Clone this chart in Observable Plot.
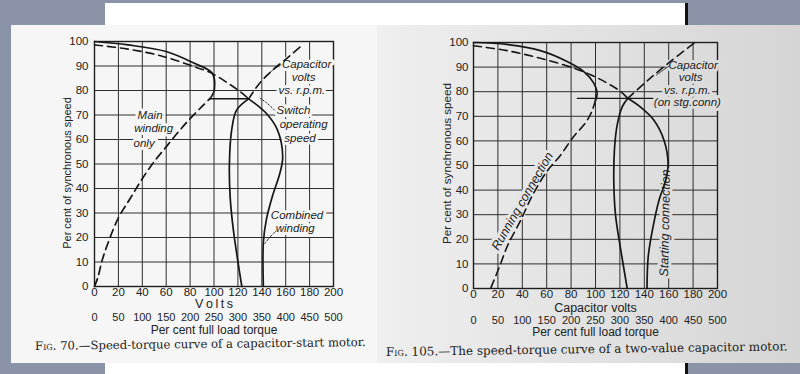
<!DOCTYPE html>
<html><head><meta charset="utf-8">
<script src="https://cdn.jsdelivr.net/npm/d3@7"></script>
<script src="https://cdn.jsdelivr.net/npm/@observablehq/plot@0.6"></script>
<style>
html,body{margin:0;padding:0}
body{width:800px;height:374px;position:relative;overflow:hidden;background:#8b93a9}
.abs{position:absolute}
#sheet{left:105px;top:3px;width:580px;height:371px;background:#fff;border-right:3px solid #111}
#p70{left:11px;top:25px;width:366px;height:338px;background:#f6f6f6}
#p105{left:377px;top:25px;width:423px;height:338px;background:linear-gradient(90deg,#efefef,#d5d5d5)}
.cap{font-family:"DejaVu Serif",serif;color:#222;white-space:nowrap;transform-origin:left center;line-height:13px}
.sc{font-variant:small-caps}
svg{display:block}
</style></head><body>
<div id="sheet" class="abs"></div>
<div id="p70" class="abs"></div>
<div id="p105" class="abs"></div>
<div class="abs cap" style="left:35px;top:340px;font-size:11.7px;transform:rotate(-0.7deg)"><span class="sc">Fig.</span> 70.—Speed-torque curve of a capacitor-start motor.</div>
<div class="abs cap" style="left:386px;top:346px;font-size:12px;transform:rotate(-0.8deg)"><span class="sc">Fig.</span> 105.—The speed-torque curve of a two-value capacitor motor.</div>
<script>
// ---- shared ticks ----
const voltTicks = [0,20,40,60,80,100,120,140,160,180,200];
const torqueTicks = [0,50,100,150,200,250,300,350,400,450,500];
const speedTicks = [0,10,20,30,40,50,60,70,80,90,100];

// ---- Fig. 70 : capacitor-start motor  [volts, % speed] ----
const f70MainLower = [[0,0],[3,4],[6,10],[10,16],[20,28],[30,36],[40,44],[50,51],[60,57],[70,63],[80,68.5],[90,73.5],[96.4,76.6]];
const f70MainUpper = [[0,100],[28,98.6],[60,95.9],[83,91.2],[98.4,87.1],[100.3,80.3],[98.5,78],[96.4,76.6]];
const f70UpperDashed = [[0,98.6],[28,96.9],[56,94.1],[83,89.8],[97,87.3],[110.7,83.3],[121.7,79.6],[129,76.6]];
const f70Switch = [[96.4,76.6],[129,76.6]];
const f70CapVoltsAbove = [[129,76.6],[138.2,83],[149.2,88.4],[162.9,93.9],[174,98.6]];
const f70CapVoltsBelow = [[129,76.6],[119,72.1],[114.8,63.9],[112.9,50.3],[113.5,36.7],[116.2,23.1],[123.3,0]];
const f70Combined = [[129,76.6],[143.7,70.7],[153,64],[157.5,53],[155,46],[149,37],[143.7,27],[141.3,18],[141.3,0]];
const f70LeadCap = [[156,90.5],[150,88.6],[143,85.8]];
const f70LeadSwitch = [[150.5,72],[144,75],[138.5,76.8]];
const f70LeadComb = [[151.5,22.5],[146.5,20],[142.5,17.5]];
const f70Notes = [
  {t:"Main", v:46.5, s:69.8},{t:"winding", v:49.5, s:64.4},{t:"only", v:41.5, s:58.3},
  {t:"Capacitor", v:177.5, s:90.8},{t:"volts", v:175, s:85.5},{t:"vs. r.p.m.", v:173.5, s:80.2},
  {t:"Switch", v:166.5, s:72},{t:"operating", v:175, s:66},{t:"speed", v:172, s:60.4},
  {t:"Combined", v:169.5, s:29.2},{t:"winding", v:168, s:23.7}
];

// ---- Fig. 105 : two-value capacitor motor  [volts, % speed] ----
const f105RunUpper = [[0,100],[27.4,99.2],[54.8,96.7],[76.7,92.3],[90.4,88.2],[98.6,83.5],[101.4,79.4],[100,76.5]];
const f105RunLower = [[100,76.5],[97,72],[92,67.5],[82,61.7],[71,54],[60,47.5],[49,38.5],[38.4,27.5],[28,17.5],[21,8.5],[14,0]];
const f105UpperDashed = [[0,98.7],[27.4,96.7],[54.8,93.6],[82.2,89.6],[95.9,86.9],[109.6,83.5],[120.5,80.1],[126.5,77.3]];
const f105CapVoltsAbove = [[126.5,77.3],[143.3,84.8],[159.7,91.6],[181,99.8]];
const f105CapVoltsBelow = [[126.5,77.3],[121.9,73.8],[117.8,66.5],[115.6,57],[115,43.4],[116.4,29.9],[120.5,16.3],[126,0]];
const f105Starting = [[126.5,77.3],[136.7,73.8],[147.9,68.4],[156.2,60.2],[159.5,50.7],[157.5,43.9],[152,35.8],[146.6,23.6],[143.2,12.9],[142.2,0]];
const f105SwitchLine = [[85,77.3],[147,77.3]];
const f105LeadCap = [[160.5,90.5],[155,88.6],[150,86.8]];
const f105Notes = [
  {t:"Capacitor", v:180, s:90.9, r:0},{t:"volts", v:178, s:85.9, r:0},{t:"vs. r.p.m.", v:175.3, s:80.7, r:0},
  {t:"(on stg.conn)", v:175.3, s:75.5, r:0},
  {t:"Running connection", v:40, s:35.5, r:-60},
  {t:"Starting connection", v:157, s:26.6, r:-89}
];

const INK = "#161616";
const SANS = "'Liberation Sans', Arial, sans-serif";

function baseMarks(cfg){
  const k = voltTicks[voltTicks.length-1] / torqueTicks[torqueTicks.length-1];
  return [
    Plot.ruleX(voltTicks, {x: d => d, stroke: "#2e2e2e", strokeWidth: 1}),
    Plot.ruleY(speedTicks, {y: d => d, stroke: "#2e2e2e", strokeWidth: 1}),
    Plot.frame({stroke: "#1e1e1e", strokeWidth: 1.4}),
    Plot.text(speedTicks, {y: d => d, text: d => String(d), frameAnchor: "left", dx: cfg.ydx, textAnchor: "end", fontSize: cfg.fs, fill: "#222"}),
    Plot.text(voltTicks, {x: d => d, text: d => String(d), frameAnchor: "bottom", dy: cfg.xdy, fontSize: cfg.fs, fill: "#222"}),
    Plot.text(torqueTicks, {x: d => d * k, text: d => String(d), frameAnchor: "bottom", dy: cfg.tdy, fontSize: cfg.fs - 0.5, fill: "#222"}),
    Plot.text([cfg.xTitle], {text: d => d, frameAnchor: "bottom", dy: cfg.xtdy, fontSize: cfg.fs + 1, fill: "#222"}),
    Plot.text(["Per cent full load torque"], {text: d => d, frameAnchor: "bottom", dy: cfg.ttdy, fontSize: cfg.fs + 0.5, fill: "#222"}),
    Plot.text(["Per cent of synchronous speed"], {text: d => d, frameAnchor: "left", textAnchor: "middle", dx: cfg.ytdx, dy: cfg.ytdy, rotate: -90, fontSize: cfg.yfs, fill: "#222"})
  ];
}
const pt = {x: d => d[0], y: d => d[1], curve: "catmull-rom", stroke: INK};

// ---- Fig 70 ----
const c70 = Plot.plot({
  width: 366, height: 338,
  marginLeft: 83, marginRight: 44, marginTop: 16, marginBottom: 77,
  x: {domain: [0, 200], axis: null},
  y: {domain: [0, 100], axis: null},
  style: {background: "transparent", fontFamily: SANS, overflow: "visible"},
  marks: [
    ...baseMarks({ydx: -6, xdy: 9, tdy: 34, xtdy: 21, ttdy: 47, ytdx: -27, ytdy: 9, fs: 11.5, yfs: 11, xTitle: "V\u2009o\u2009l\u2009t\u2009s"}),
    Plot.text(f70Notes, {x: "v", y: "s", text: "t", fontStyle: "italic", fontSize: 11.5, fill: "#222", stroke: "#f6f6f6", strokeWidth: 6, paintOrder: "stroke"}),
    Plot.line(f70MainLower, {...pt, strokeWidth: 1.7, strokeDasharray: "8,5"}),
    Plot.line(f70MainUpper, {...pt, strokeWidth: 1.7}),
    Plot.line(f70UpperDashed, {...pt, strokeWidth: 1.6, strokeDasharray: "8,5"}),
    Plot.line(f70Switch, {...pt, curve: "linear", strokeWidth: 1.5}),
    Plot.line(f70CapVoltsAbove, {...pt, strokeWidth: 1.6, strokeDasharray: "8,5"}),
    Plot.line(f70CapVoltsBelow, {...pt, strokeWidth: 1.7}),
    Plot.line(f70Combined, {...pt, strokeWidth: 1.7}),
    Plot.line(f70LeadCap, {...pt, strokeWidth: 0.9}),
    Plot.line(f70LeadSwitch, {...pt, strokeWidth: 1, strokeDasharray: "1.5,2"}),
    Plot.line(f70LeadComb, {...pt, strokeWidth: 0.9, strokeDasharray: "3,2"})
  ]
});
document.getElementById("p70").append(c70);

// ---- Fig 105 ----
const haloRight = d3.interpolateRgb("#efefef", "#d5d5d5");
const c105 = Plot.plot({
  width: 423, height: 338,
  marginLeft: 96, marginRight: 83, marginTop: 17, marginBottom: 75,
  x: {domain: [0, 200], axis: null},
  y: {domain: [0, 100], axis: null},
  style: {background: "transparent", fontFamily: SANS, overflow: "visible"},
  marks: [
    ...baseMarks({ydx: -5, xdy: 9, tdy: 35, xtdy: 23, ttdy: 47, ytdx: -26, ytdy: -2, fs: 11.5, yfs: 11.7, xTitle: "Capacitor volts"}),
    Plot.text(f105Notes, {x: "v", y: "s", text: "t", rotate: "r", fontStyle: "italic", fontSize: d => d.r ? 12.5 : 11.5, fill: "#222",
      stroke: d => haloRight((96 + d.v * 1.22) / 423), strokeWidth: 6, paintOrder: "stroke"}),
    Plot.line(f105RunUpper, {...pt, strokeWidth: 1.7}),
    Plot.line(f105RunLower, {...pt, strokeWidth: 1.6, strokeDasharray: "8,5"}),
    Plot.line(f105UpperDashed, {...pt, strokeWidth: 1.6, strokeDasharray: "8,5"}),
    Plot.line(f105CapVoltsAbove, {...pt, strokeWidth: 1.6, strokeDasharray: "8,5"}),
    Plot.line(f105CapVoltsBelow, {...pt, strokeWidth: 1.7}),
    Plot.line(f105Starting, {...pt, strokeWidth: 1.7}),
    Plot.line(f105SwitchLine, {...pt, curve: "linear", strokeWidth: 1.2}),
    Plot.line(f105LeadCap, {...pt, strokeWidth: 0.9})
  ]
});
document.getElementById("p105").append(c105);
</script>
</body></html>
